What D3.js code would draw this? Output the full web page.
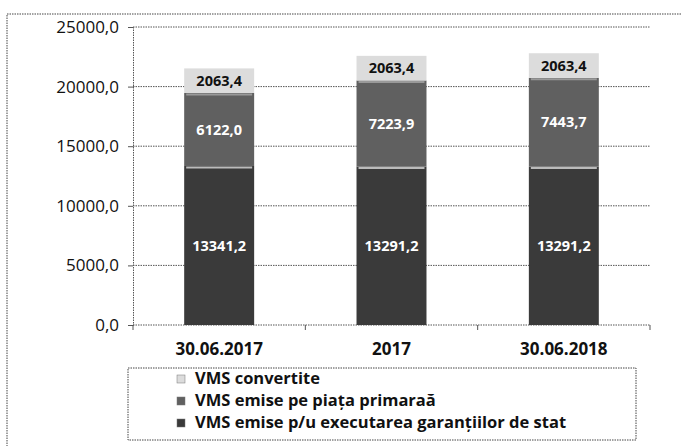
<!DOCTYPE html>
<html>
<head>
<meta charset="utf-8">
<script src="https://cdn.jsdelivr.net/npm/d3@7"></script>
<style>
  body { margin:0; background:#fff; }
  text { font-family:"Open Sans", "Liberation Sans", sans-serif; }
</style>
</head>
<body>
<div id="chart"></div>
<script>
// values
const categories = ["30.06.2017", "2017", "30.06.2018"];
const garantii   = [13341.2, 13291.2, 13291.2];   // VMS emise p/u executarea garanțiilor de stat
const primara    = [6122.0, 7223.9, 7443.7];      // VMS emise pe piața primaraă
const convertite = [2063.4, 2063.4, 2063.4];      // VMS convertite
const seriesNames = ["VMS emise p/u executarea garanțiilor de stat", "VMS emise pe piața primaraă", "VMS convertite"];
const yTicks = [0, 5000, 10000, 15000, 20000, 25000];

const w = 682, h = 446;
const m = { top:27, right:32, bottom:121, left:133 };
const iw = w - m.left - m.right, ih = h - m.top - m.bottom;

const svg = d3.select("#chart").append("svg").attr("width", w).attr("height", h);

// outer frame (only top + left show in the scan)
svg.append("rect").attr("x", 7).attr("y", 14).attr("width", 700).attr("height", 460)
  .attr("fill", "none").attr("stroke", "#444").attr("stroke-dasharray", "1.5,1");

const g = svg.append("g").attr("transform", `translate(${m.left},${m.top})`);

const x = d3.scaleBand().domain(categories).range([0, iw]).paddingInner(0.594).paddingOuter(0.297);
const y = d3.scaleLinear().domain([0, 25000]).range([ih, 0]);

const loc = d3.formatLocale({ decimal:",", thousands:"", grouping:[3], currency:["",""] });
const fmt = loc.format(".1f");

// gridlines
g.selectAll(".grid").data(yTicks.filter(d => d > 0)).enter().append("line")
  .attr("x1", 0).attr("x2", iw).attr("y1", d => y(d)).attr("y2", d => y(d))
  .attr("stroke", "#555").attr("stroke-dasharray", "1.5,1");

// y axis
const gy = g.append("g").call(d3.axisLeft(y).tickValues(yTicks).tickSize(5).tickPadding(9).tickFormat(fmt));
gy.select(".domain").attr("stroke", "#555").attr("stroke-dasharray", "1.5,1");
gy.selectAll(".tick line").attr("stroke", "#555");
gy.selectAll("text").attr("font-size", 17).attr("fill", "#111").attr("font-family", "Open Sans");

// x axis line + ticks at the band edges
g.append("line").attr("x1", 0).attr("x2", iw).attr("y1", ih).attr("y2", ih)
  .attr("stroke", "#555").attr("stroke-dasharray", "1.5,1");
const step = x.step();
g.selectAll(".xt").data(d3.range(categories.length + 1)).enter().append("line")
  .attr("x1", i => i * step).attr("x2", i => i * step)
  .attr("y1", ih).attr("y2", ih + 5).attr("stroke", "#555");
g.selectAll(".xl").data(categories).enter().append("text")
  .attr("x", d => x(d) + x.bandwidth() / 2).attr("y", ih + 30)
  .attr("text-anchor", "middle").attr("font-size", 17).attr("font-weight", "bold")
  .attr("fill", "#111").text(d => d);

// stacked bars
const rows = categories.map((c, i) => ({ cat:c, s0:garantii[i], s1:primara[i], s2:convertite[i] }));
const stack = d3.stack().keys(["s0", "s1", "s2"])(rows);
const colors = ["#3a3a3a", "#606060", "#dcdcdc"];
const labelColors = ["#fff", "#fff", "#111"];

stack.forEach((layer, li) => {
  const gl = g.append("g");
  gl.selectAll("rect").data(layer).enter().append("rect")
    .attr("x", d => x(d.data.cat)).attr("width", x.bandwidth())
    .attr("y", d => y(d[1])).attr("height", d => y(d[0]) - y(d[1]))
    .attr("fill", colors[li]);
  // thin light edge at the top of the darker segments
  if (li < 2) {
    gl.selectAll("line").data(layer).enter().append("line")
      .attr("x1", d => x(d.data.cat) + 2).attr("x2", d => x(d.data.cat) + x.bandwidth() - 2)
      .attr("y1", d => y(d[1]) + 1.5).attr("y2", d => y(d[1]) + 1.5)
      .attr("stroke", li === 0 ? "#bbb" : "#999").attr("stroke-width", 2);
  }
  gl.selectAll("text").data(layer).enter().append("text")
    .attr("x", d => x(d.data.cat) + x.bandwidth() / 2)
    .attr("y", d => (y(d[0]) + y(d[1])) / 2)
    .attr("dy", "0.35em").attr("text-anchor", "middle")
    .attr("font-size", 14.5).attr("font-weight", "bold")
    .attr("fill", labelColors[li]).text(d => fmt(d[1] - d[0]));
});

// legend box
const lg = svg.append("g");
lg.append("rect").attr("x", 128).attr("y", 368).attr("width", 508).attr("height", 72)
  .attr("fill", "none").attr("stroke", "#444").attr("stroke-dasharray", "1.5,1");
const legendOrder = [2, 1, 0];
legendOrder.forEach((si, k) => {
  lg.append("rect").attr("x", 177).attr("y", 375 + k * 22).attr("width", 8).attr("height", 8)
    .attr("fill", colors[si]).attr("stroke", "#777").attr("stroke-width", 0.5);
  lg.append("text").attr("x", 195).attr("y", 384 + k * 22)
    .attr("font-size", 16.5).attr("font-weight", "bold").attr("fill", "#111")
    .text(seriesNames[si]);
});
</script>
</body>
</html>
